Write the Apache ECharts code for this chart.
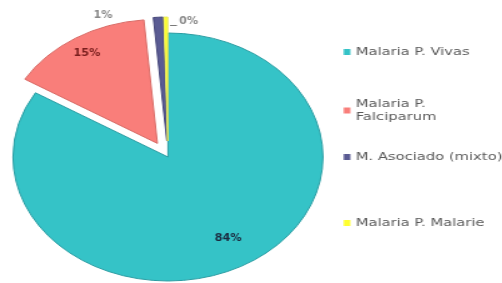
<!DOCTYPE html>
<html><head><meta charset="utf-8">
<script src="https://cdn.jsdelivr.net/npm/echarts@6/dist/echarts.min.js"></script>
<style>
html,body{margin:0;padding:0;background:#fff;width:502px;height:283px;overflow:hidden}
#pie{position:absolute;left:0;top:0;width:270px;height:283px;transform:scaleX(1.25);transform-origin:0 0}
#leg{position:absolute;left:343px;top:0;width:120px;height:283px;transform:scaleX(1.34);transform-origin:0 0}
</style></head>
<body>
<div id="pie"></div><div id="leg"></div>
<script>
const categories = ['Malaria P. Vivas', 'Malaria P.\nFalciparum', 'M. Asociado (mixto)', 'Malaria P. Malarie'];
const values = [84, 15, 1, 0.4];
const exploded = [false, true, true, true];
const colors = ['#35C3C7', '#F97E7A', '#5A5B93', '#FFFF30'];
const borders = ['#2B9DA3', '#D86A65', '#45467A', '#E8E860'];
const labelColors = ['#1B2A3F', '#7A1F1E', '#8A8A8A', '#8A8A8A'];
const labelPos = [[182.4, 238], [69.6, 53], [82.4, 15], [147.2, 21]];

const common = {
  type: 'pie',
  center: [134.4, 157],
  radius: 124,
  startAngle: 90,
  clockwise: true,
  percentPrecision: 0,
  silent: true
};

const pie = echarts.init(document.getElementById('pie'), null, {renderer: 'canvas'});
pie.setOption({
  animation: false,
  series: [
    Object.assign({}, common, {
      selectedMode: 'multiple',
      selectedOffset: 16,
      label: {show: false},
      labelLine: {show: false},
      data: categories.map((c, i) => ({
        name: c, value: values[i], selected: exploded[i],
        itemStyle: {color: colors[i], borderColor: borders[i], borderWidth: 1}
      }))
    }),
    Object.assign({}, common, {
      z: 5,
      itemStyle: {color: 'rgba(0,0,0,0)', borderWidth: 0},
      data: categories.map((c, i) => ({
        name: c, value: values[i], label: {color: labelColors[i]}
      })),
      label: {show: true, position: 'inside', fontSize: 10, fontWeight: 'bold',
        fontFamily: 'Liberation Sans Narrow, DejaVu Sans Condensed, sans-serif',
        formatter: p => (p.dataIndex === 3 ? '{u|}{s|}' : '') + p.percent + '%',
        rich: {
          u: {width: 5.6, height: 1, backgroundColor: '#7A7A7A', verticalAlign: 'bottom'},
          s: {width: 1.6, height: 1}
        }},
      labelLine: {show: false},
      labelLayout: function (p) {
        const q = labelPos[p.dataIndex];
        return {x: q[0], y: q[1], align: 'center', verticalAlign: 'middle'};
      }
    })
  ]
});

const leg = echarts.init(document.getElementById('leg'), null, {renderer: 'canvas'});
const legTops = [45.5, 97.5, 150.5, 216.5];
leg.setOption({
  animation: false,
  legend: categories.map((c, i) => ({
    data: [c], left: 0.5, top: legTops[i], padding: 0, icon: 'rect', itemWidth: 5, itemHeight: 6,
    selectedMode: false,
    textStyle: {color: '#5A5A5A', fontSize: 11, fontFamily: 'DejaVu Sans', lineHeight: 13, padding: [0, 0, 0, -1]}
  })),
  series: [{
    type: 'pie', center: [-200, -200], radius: 1, silent: true,
    label: {show: false}, labelLine: {show: false},
    data: categories.map((c, i) => ({name: c, value: values[i] || 0.01, itemStyle: {color: colors[i]}}))
  }]
});
</script>
</body></html>
